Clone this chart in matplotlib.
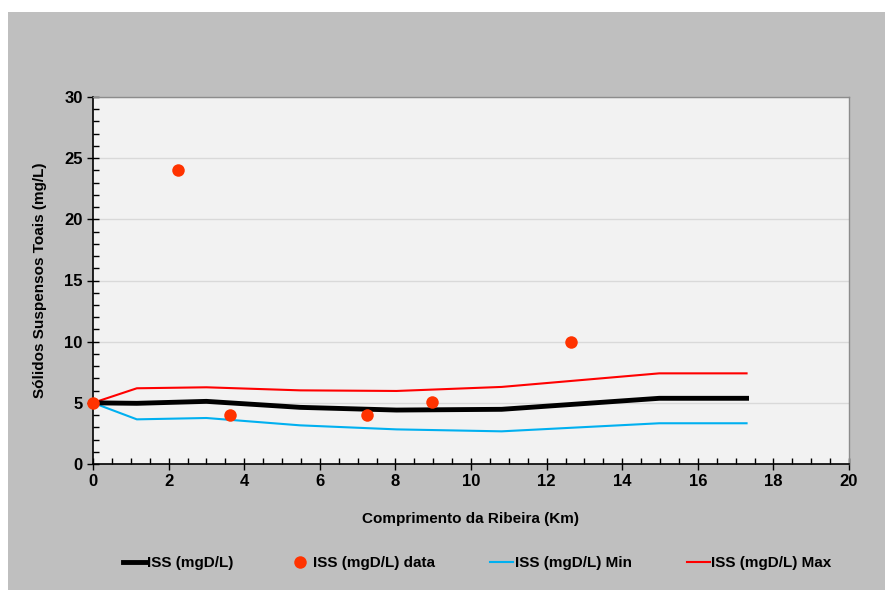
import matplotlib
matplotlib.use("Agg")
import matplotlib.pyplot as plt
import matplotlib.patches as mpatches
from matplotlib.ticker import MultipleLocator

# data
dist = [0, 1.16, 3.0, 5.48, 8.03, 10.81, 14.98, 17.29]
iss = [5.0, 4.96, 5.12, 4.63, 4.41, 4.47, 5.37, 5.37]
iss_min = [5.0, 3.65, 3.76, 3.16, 2.83, 2.67, 3.33, 3.33]
iss_max = [5.0, 6.19, 6.27, 6.02, 5.97, 6.30, 7.41, 7.41]

obs_x = [0, 2.25, 3.63, 7.25, 8.98, 12.65]
obs_y = [5.0, 24.0, 4.0, 4.0, 5.1, 10.0]

plt.rcParams["font.family"] = ["Liberation Sans Narrow", "Liberation Sans", "DejaVu Sans"]
plt.rcParams["font.weight"] = "bold"

W, H = 892, 613
fig = plt.figure(figsize=(W / 100, H / 100), dpi=100, facecolor="white")

# grey chart area
fig.patches.append(mpatches.Rectangle((8 / W, 1 - 590 / H), (885 - 8) / W, (590 - 12) / H,
                                      transform=fig.transFigure, facecolor="#bfbfbf",
                                      edgecolor="none", zorder=-10))

ax = fig.add_axes([93 / W, 1 - 464 / H, (849 - 93) / W, (464 - 97) / H])
ax.set_zorder(5)
ax.set_facecolor("#f2f2f2")

ax.plot(dist, iss, color="black", lw=3.5, label="ISS (mgD/L)", zorder=4)
ax.plot(obs_x, obs_y, "o", color="#ff3300", ms=9, mec="none", label="ISS (mgD/L) data",
        zorder=5, clip_on=False)
ax.plot(dist, iss_min, color="#00b0f0", lw=1.5, label="ISS (mgD/L) Min", zorder=3)
ax.plot(dist, iss_max, color="#ff0000", lw=1.5, label="ISS (mgD/L) Max", zorder=3)

ax.set_xlim(0, 20)
ax.set_ylim(0, 30)
ax.xaxis.set_major_locator(MultipleLocator(2))
ax.xaxis.set_minor_locator(MultipleLocator(0.5))
ax.yaxis.set_major_locator(MultipleLocator(5))
ax.yaxis.set_minor_locator(MultipleLocator(1))
ax.tick_params(which="major", direction="inout", length=8, width=1, labelsize=12, colors="black")
ax.tick_params(which="minor", direction="in", length=4, width=1)
ax.grid(axis="y", which="major", color="#d9d9d9", lw=1)
ax.set_axisbelow(True)

for s in ["left", "bottom"]:
    ax.spines[s].set_color("black")
    ax.spines[s].set_linewidth(1.2)
for s in ["top", "right"]:
    ax.spines[s].set_color("#8c8c8c")
    ax.spines[s].set_linewidth(1)

ax.set_xlabel("Comprimento da Ribeira (Km)", fontsize=11, fontweight="bold", labelpad=16)
ax.set_ylabel("Sólidos Suspensos Toais (mg/L)", fontsize=11, fontweight="bold", labelpad=12)

fig.legend(loc="center", bbox_to_anchor=(0.535, 1 - 563 / H), ncol=4, frameon=False,
           fontsize=11, handlelength=1.5, handletextpad=0.1, columnspacing=3.6)

fig.savefig("out.png", dpi=100, facecolor="white")
